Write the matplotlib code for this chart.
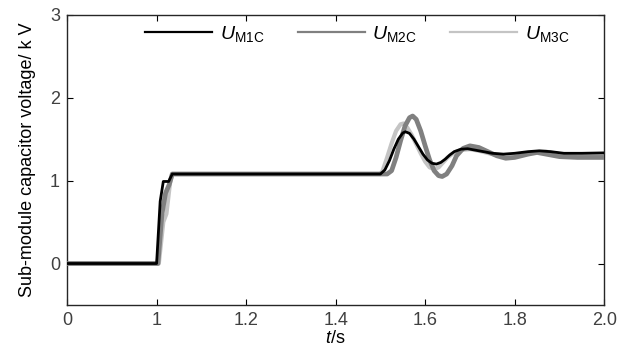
import matplotlib
matplotlib.use("Agg")
import matplotlib.pyplot as plt

plt.rcParams['font.family'] = ['Liberation Sans', 'DejaVu Sans']
plt.rcParams['mathtext.fontset'] = 'custom'
plt.rcParams['mathtext.rm'] = 'Liberation Sans'
plt.rcParams['mathtext.it'] = 'Liberation Sans:italic'

# time axis runs 0.8..2.0 internally, first tick is labelled "0"
t1 = [0.8, 1.0, 1.008, 1.015, 1.027, 1.035, 1.5, 1.51, 1.52, 1.53, 1.54, 1.55,
      1.556, 1.565, 1.575, 1.585, 1.595, 1.605, 1.615, 1.625, 1.635, 1.645, 1.655,
      1.665, 1.68, 1.695, 1.71, 1.73, 1.75, 1.775, 1.8, 1.83, 1.855, 1.88, 1.91,
      1.95, 2.0]
u1 = [0, 0, 0.75, 0.99, 0.99, 1.08, 1.08, 1.13, 1.24, 1.38, 1.50, 1.575,
      1.59, 1.57, 1.50, 1.41, 1.32, 1.25, 1.21, 1.20, 1.22, 1.26, 1.31,
      1.35, 1.38, 1.385, 1.37, 1.35, 1.33, 1.32, 1.33, 1.35, 1.36, 1.35, 1.33,
      1.33, 1.335]

t2 = [0.8, 1.003, 1.012, 1.02, 1.028, 1.035, 1.5, 1.515, 1.525, 1.535, 1.545,
      1.555, 1.565, 1.572, 1.58, 1.59, 1.6, 1.61, 1.62, 1.63, 1.638, 1.648, 1.66,
      1.67, 1.685, 1.7, 1.72, 1.74, 1.76, 1.78, 1.8, 1.83, 1.85, 1.87, 1.9, 1.94,
      2.0]
u2 = [0, 0, 0.6, 0.85, 0.95, 1.08, 1.08, 1.08, 1.12, 1.28, 1.48,
      1.66, 1.76, 1.78, 1.74, 1.60, 1.42, 1.25, 1.12, 1.06, 1.05, 1.08, 1.18,
      1.30, 1.39, 1.42, 1.40, 1.35, 1.30, 1.27, 1.28, 1.32, 1.34, 1.32, 1.29, 1.28,
      1.28]

t3 = [0.8, 1.005, 1.015, 1.022, 1.03, 1.035, 1.5, 1.505, 1.515, 1.525, 1.535,
      1.545, 1.552, 1.56, 1.57, 1.58, 1.59, 1.6, 1.61, 1.62, 1.63, 1.64, 1.65,
      1.665, 1.68, 1.7, 1.72, 1.75, 1.78, 1.81, 1.84, 1.87, 1.9, 1.95, 2.0]
u3 = [0, 0, 0.5, 0.6, 0.97, 1.08, 1.08, 1.12, 1.28, 1.45, 1.60,
      1.68, 1.69, 1.64, 1.55, 1.44, 1.33, 1.23, 1.16, 1.14, 1.16, 1.22, 1.28,
      1.34, 1.37, 1.38, 1.36, 1.32, 1.30, 1.31, 1.34, 1.35, 1.32, 1.31, 1.31]

xticks = [0.8, 1.0, 1.2, 1.4, 1.6, 1.8, 2.0]
xlabels = ['0', '1', '1.2', '1.4', '1.6', '1.8', '2.0']
yticks = [0, 1, 2, 3]

fig = plt.figure(figsize=(6.21, 3.55), dpi=100)
ax = fig.add_axes([0.108, 0.141, 0.865, 0.817])

ax.plot(t3, u3, color='#c4c4c4', lw=3.0, label=r'$U_{\mathrm{M3C}}$', zorder=2)
ax.plot(t2, u2, color='#808080', lw=3.4, label=r'$U_{\mathrm{M2C}}$', zorder=3)
ax.plot(t1, u1, color='black', lw=2.0, label=r'$U_{\mathrm{M1C}}$', zorder=4)

ax.set_xlim(0.8, 2.0)
ax.set_ylim(-0.5, 3)
ax.set_xticks(xticks)
ax.set_xticklabels(xlabels)
ax.set_yticks(yticks)
ax.tick_params(direction='in', top=True, right=True, labelsize=13,
               labelcolor='#404040', length=4, width=0.8, pad=5)
for s in ax.spines.values():
    s.set_linewidth(1.0)
    s.set_color('#262626')

ax.set_xlabel(r'$t$/s', fontsize=13, labelpad=1)
ax.set_ylabel('Sub-module capacitor voltage/ k V', fontsize=13, labelpad=10)

h, l = ax.get_legend_handles_labels()
leg = ax.legend(h[::-1], l[::-1], ncol=3, frameon=False, loc='upper center',
                bbox_to_anchor=(0.54, 1.03), fontsize=14, handlelength=3.45,
                columnspacing=1.7, handletextpad=0.4)
for ln in leg.get_lines():
    ln.set_linewidth(1.6)

fig.savefig('out.png', dpi=100)
